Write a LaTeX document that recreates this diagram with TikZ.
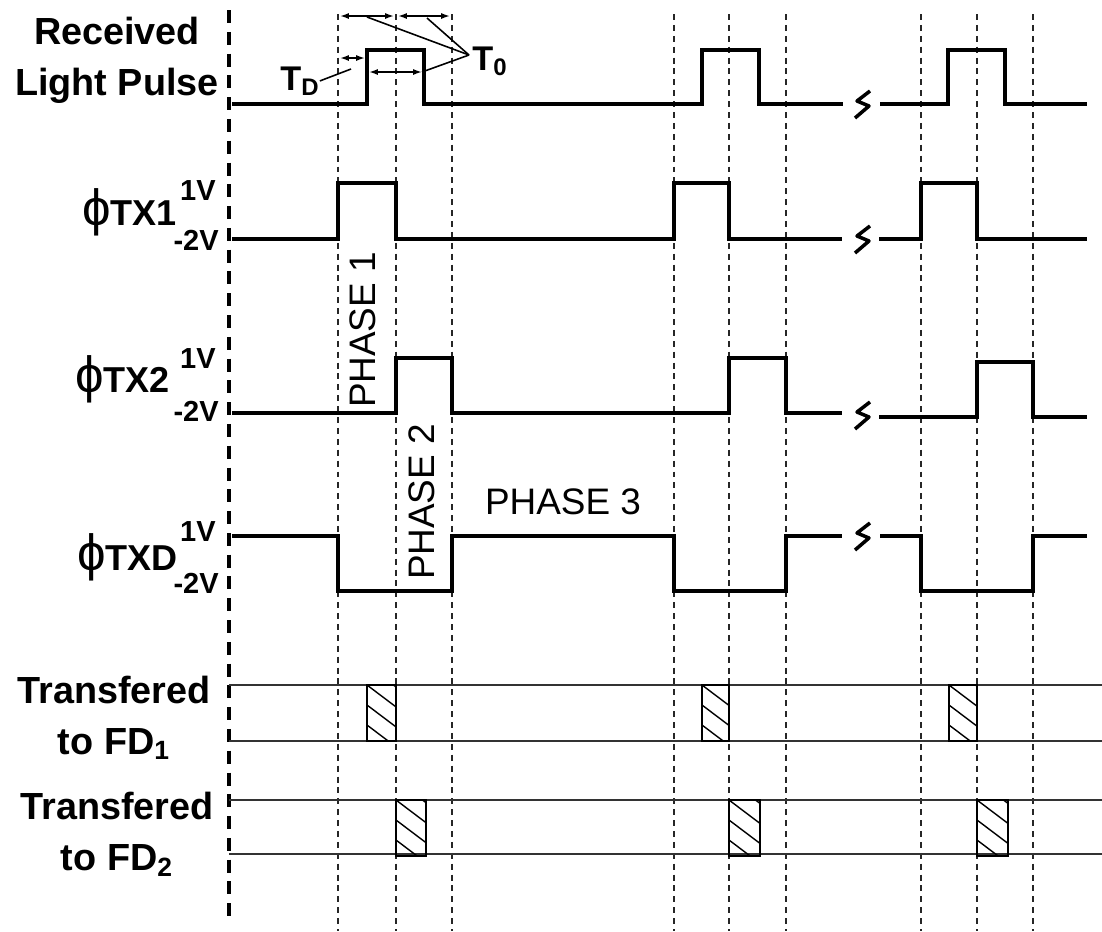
\documentclass[tikz,border=0pt]{standalone}
\usepackage{fontspec}
\setmainfont{Liberation Sans}
\usetikzlibrary{arrows.meta, positioning}

\tikzset{
  wave/.style={line width=2.2pt},
  guide/.style={line width=1.5pt, black!85, dash pattern=on 3.4pt off 2.8pt},
  axisline/.style={line width=2.4pt, dash pattern=on 7.4pt off 5pt},
  fdline/.style={line width=1.3pt, black!80},
  fdbox/.style={line width=1.2pt},
  hatch/.style={line width=0.8pt},
  brk/.style={line width=2pt, line join=round},
  dimarrow/.style={line width=0.9pt, {Latex[length=5pt,width=3.4pt]}-{Latex[length=5pt,width=3.4pt]}},
  lead/.style={line width=0.9pt},
  siglbl/.style={font=\bfseries\fontsize{21.5}{29}\selectfont, align=center, inner sep=0pt},
  txlbl/.style={font=\bfseries\fontsize{20.5}{22}\selectfont, inner sep=0pt, anchor=base east},
  voltlbl/.style={font=\bfseries\fontsize{16.5}{18}\selectfont, inner sep=0pt, anchor=east},
  phaselbl/.style={font=\fontsize{21}{24}\selectfont, inner sep=0pt},
  tlbl/.style={font=\bfseries\fontsize{19.5}{22}\selectfont, inner sep=0pt, anchor=base west}
}
\newcommand{\phisym}{{\mdseries\fontsize{29}{29}\selectfont ϕ}}

\begin{document}
\begin{tikzpicture}[x=0.02cm, y=-0.02cm]
\useasboundingbox (0,0) rectangle (1102,931);

% time axis and phase guides
\draw [axisline] (229,10) -- (229,922);
\foreach \gx in {338,396,452,674,729,786,921,977,1033}
  \draw [guide] (\gx,14) -- (\gx,931);

% signal names
\node [siglbl] (rlp) at (117,60) {Received\\Light Pulse};
\node [txlbl] (tx1) at (177,225) {\phisym TX1};
\node [voltlbl] (tx1hi) at (216,191) {1V};
\node [voltlbl] (tx1lo) at (219,240) {-2V};
\node [txlbl] (tx2) at (170,392) {\phisym TX2};
\node [voltlbl] (tx2hi) at (216,359) {1V};
\node [voltlbl] (tx2lo) at (219,411) {-2V};
\node [txlbl] (txd) at (178,570) {\phisym TXD};
\node [voltlbl] (txdhi) at (216,532) {1V};
\node [voltlbl] (txdlo) at (219,583) {-2V};
\node [siglbl] (fd1) at (114,718) {Transfered\\to FD\textsubscript{1}};
\node [siglbl] (fd2) at (117,834) {Transfered\\to FD\textsubscript{2}};

% waveforms
\draw [wave] (232,104) -| (367,50) -| (424,104) -| (702,50) -| (759,104) -- (843,104);
\draw [wave] (880,104) -| (948,50) -| (1005,104) -- (1087,104);
\draw [wave] (232,239) -| (338,183) -| (396,239) -| (674,183) -| (729,239) -- (842,239);
\draw [wave] (879,239) -| (921,183) -| (977,239) -- (1087,239);
\draw [wave] (232,413) -| (396,358) -| (452,413) -| (729,358) -| (786,413) -- (842,413);
\draw [wave] (879,417) -| (977,362) -| (1033,417) -- (1087,417);
\draw [wave] (232,536) -| (338,591) -| (452,536) -| (674,591) -| (786,536) -- (842,536);
\draw [wave] (880,536) -| (921,591) -| (1033,536) -- (1087,536);

% breaks
\foreach \by in {104,239,415,536}
  \draw [brk] (870,\by-13) -- (857,\by-3) -- (869,\by+2) -- (855,\by+14);

% phases
\node [phaselbl, rotate=90] (ph1) at (363,330) {PHASE 1};
\node [phaselbl, rotate=90] (ph2) at (422,502) {PHASE 2};
\node [phaselbl] (ph3) at (563,502) {PHASE 3};

% charge transfer rows
\foreach \ry in {685,741,800,854}
  \draw [fdline] (229,\ry) -- (1102,\ry);
\foreach \hx/\hw/\hy in {367/29/685, 702/27/685, 949/28/685, 396/30/800, 729/31/800, 977/31/800} {
  \begin{scope}
    \clip (\hx,\hy) rectangle ++(\hw,56);
    \foreach \k in {-20,0,20,40}
      \draw [hatch] (\hx,\hy+\k) -- ++(45,34);
  \end{scope}
  \draw [fdbox] (\hx,\hy) rectangle ++(\hw,56);
}

% delay and width marks
\coordinate (w1a) at (340,16);  \coordinate (w1b) at (394,16);
\coordinate (w2a) at (398,16);  \coordinate (w2b) at (450,16);
\coordinate (pwa) at (369,72);  \coordinate (pwb) at (422,72);
\coordinate (tda) at (340,58);  \coordinate (tdb) at (365,58);
\draw [dimarrow] (w1a) -- (w1b);
\draw [dimarrow] (w2a) -- (w2b);
\draw [dimarrow] (pwa) -- (pwb);
\draw [dimarrow] (tda) -- (tdb);
\node [tlbl] (t0) at (472,70) {T\textsubscript{0}};
\node [tlbl] (td) at (280,90) {T\textsubscript{D}};
\coordinate (t0tip) at (469,55);
\draw [lead] (t0tip) -- (367,17);
\draw [lead] (t0tip) -- (427,18);
\draw [lead] (t0tip) -- (pwb);
\draw [lead] (td.east) -- (351,69);
\end{tikzpicture}
\end{document}
